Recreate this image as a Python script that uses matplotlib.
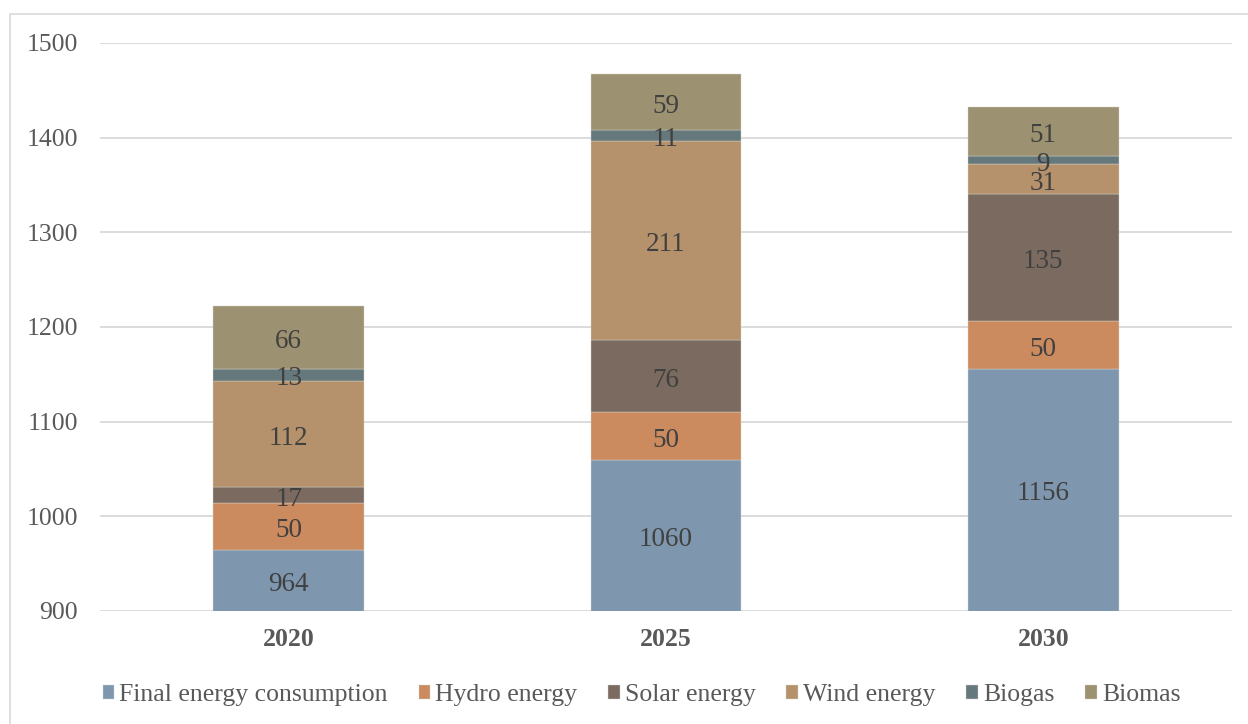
import numpy as np
import matplotlib.pyplot as plt
from matplotlib.patches import Rectangle

plt.rcParams['font.family'] = ['Liberation Serif', 'DejaVu Serif']

years = ['2020', '2025', '2030']
series = ['Final energy consumption', 'Hydro energy', 'Solar energy',
          'Wind energy', 'Biogas', 'Biomas']
final_energy = [964, 1060, 1156]
hydro = [50, 50, 50]
solar = [17, 76, 135]
wind = [112, 211, 31]
biogas = [13, 11, 9]
biomas = [66, 59, 51]
colors = ['#7f97ae', '#cc8b5e', '#7a6a5f', '#b5926c', '#65787b', '#9c9170']

y_min, y_max = 900, 1500

fig = plt.figure(figsize=(12.48, 7.24), dpi=100)
ax = fig.add_axes([100 / 1248, 1 - 611 / 724, 1132 / 1248, 568 / 724])

# chart frame
fig.patches.append(Rectangle((10 / 1248, -0.05), 1.1, 1 - 14 / 724 + 0.05,
                             transform=fig.transFigure, fill=False,
                             edgecolor='#d9d9d9', linewidth=1.2, zorder=0))

x = np.arange(len(years))
bottom = np.zeros(len(years))
for name, vals, c in zip(series, [final_energy, hydro, solar, wind, biogas, biomas], colors):
    vals = np.array(vals, dtype=float)
    ax.bar(x, vals, 0.4, bottom=bottom, color=c, label=name,
           edgecolor='#d8d4cc', linewidth=0.3, zorder=3)
    for xi, b, v in zip(x, bottom, vals):
        lo = max(b, y_min)
        ax.annotate(f'{int(v)}', (xi, (lo + b + v) / 2), xytext=(0, -3),
                    textcoords='offset points', ha='center', va='center',
                    fontsize=19.5, color='#404040', zorder=4)
    bottom += vals

ax.set_xlim(-0.5, 2.5)
ax.set_ylim(y_min, y_max)
ax.set_yticks(np.arange(900, 1501, 100))
ax.yaxis.grid(True, color='#d9d9d9', linewidth=1.3)
ax.set_axisbelow(True)
for s in ax.spines.values():
    s.set_visible(False)
ax.tick_params(axis='both', length=0, labelsize=18.5, labelcolor='#595959')
ax.tick_params(axis='y', pad=16)
ax.tick_params(axis='x', pad=12)
ax.set_xticks(x)
ax.set_xticklabels(years, fontweight='bold')

fig.legend(loc='center', bbox_to_anchor=(0.514, 1 - 695 / 724), ncol=6,
           frameon=False, fontsize=18.5, handlelength=0.45, handleheight=0.45,
           handletextpad=0.2, columnspacing=1.2, labelcolor='#595959')

fig.savefig('out.png', dpi=100)
